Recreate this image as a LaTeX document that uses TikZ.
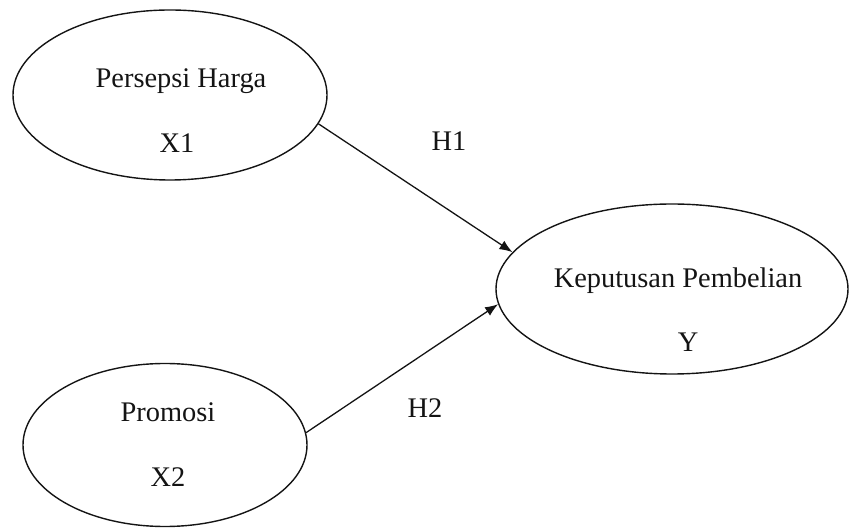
\documentclass[tikz,border=0pt]{standalone}
\usepackage{fontspec}
\setmainfont{Liberation Serif}
\usepackage{tikz}
\usetikzlibrary{shapes.geometric, arrows.meta}
\definecolor{ink}{gray}{0.08}

\begin{document}
\begin{tikzpicture}[x=0.5pt, y=-0.5pt, line width=0.7pt,
  construct/.style={draw=ink, ellipse, inner sep=0pt},
  vartext/.style={anchor=base, inner sep=0pt, text=ink, font=\fontsize{14.2}{17}\selectfont},
  path/.style={draw=ink, line width=0.65pt, -{Latex[length=6.5pt, width=5pt]}}]
  \useasboundingbox (0, 0) rectangle (850, 528);

  % the three constructs
  \node [construct, minimum width=157pt, minimum height=85pt] (harga) at (170, 95) {};
  \node [construct, minimum width=142pt, minimum height=81.5pt] (promosi) at (165, 445) {};
  \node [construct, minimum width=176pt, minimum height=85pt] (keputusan) at (672, 289) {};

  \node [vartext] (harganame) at (181, 88) { Persepsi Harga };
  \node [vartext] (hargavar) at (177, 153) { X1 };
  \node [vartext] (promosiname) at (168, 422) { Promosi };
  \node [vartext] (promosivar) at (168, 487) { X2 };
  \node [vartext] (keputusanname) at (678, 288) { Keputusan Pembelian };
  \node [vartext] (keputusanvar) at (688, 352) { Y };

  % hypotheses
  \draw [path] (harga.-11) -- (keputusan.167);
  \draw [path] (promosi.5) -- (keputusan.185);

  \node [vartext] (hone) at (449, 151) { H1 };
  \node [vartext] (htwo) at (425, 417) { H2 };
\end{tikzpicture}
\end{document}
